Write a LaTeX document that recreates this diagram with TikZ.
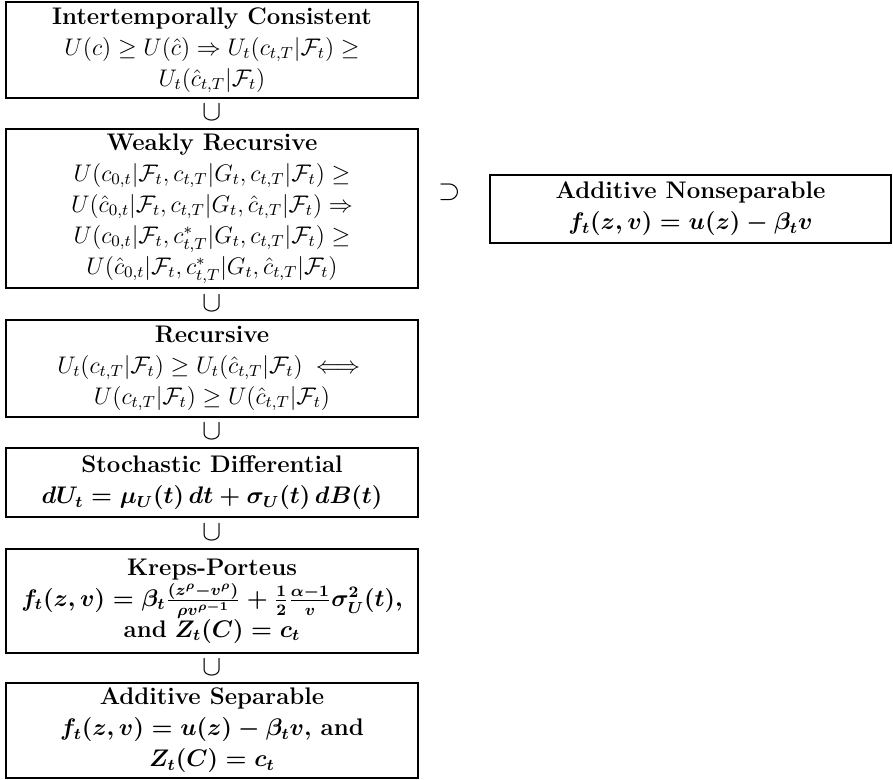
\documentclass[tikz,border=0pt]{standalone}
\usetikzlibrary{calc}
\newcommand{\bmth}[1]{{\boldmath$#1$}}
\begin{document}
\begin{tikzpicture}[x=0.5pt,y=-0.5pt,
  box/.style={draw=black, line width=0.9pt, rectangle, inner sep=0pt, align=center,
    minimum width=206pt, font=\fontsize{12}{15.5}\selectfont},
  rbox/.style={box, minimum width=200.5pt},
  rel/.style={inner sep=0pt, font=\fontsize{14}{16}\selectfont}]
\useasboundingbox (0,0) rectangle (893,780);
\node[box, minimum height=48pt] (b1) at (212,50)
  {\textbf{Intertemporally Consistent}\\
   $U(c) \geq U(\hat c) \Rightarrow U_t(c_{t,T}|\mathcal{F}_t) \geq$\\
   $U_t(\hat c_{t,T}|\mathcal{F}_t)$};
\node[box, minimum height=79.5pt] (b2) at (212,208.5)
  {\textbf{Weakly Recursive}\\
   $U(c_{0,t}|\mathcal{F}_t, c_{t,T}|G_t, c_{t,T}|\mathcal{F}_t) \geq$\\
   $U(\hat c_{0,t}|\mathcal{F}_t, c_{t,T}|G_t, \hat c_{t,T}|\mathcal{F}_t) \Rightarrow$\\
   $U(c_{0,t}|\mathcal{F}_t, c^*_{t,T}|G_t, c_{t,T}|\mathcal{F}_t) \geq$\\
   $U(\hat c_{0,t}|\mathcal{F}_t, c^*_{t,T}|G_t, \hat c_{t,T}|\mathcal{F}_t)$};
\node[box, minimum height=48.5pt] (b3) at (212,368.5)
  {\textbf{Recursive}\\
   $U_t(c_{t,T}|\mathcal{F}_t) \geq U_t(\hat c_{t,T}|\mathcal{F}_t) \iff$\\
   $U(c_{t,T}|\mathcal{F}_t) \geq U(\hat c_{t,T}|\mathcal{F}_t)$};
\node[box, minimum height=34.5pt] (b4) at (212,482.5)
  {\textbf{Stochastic Differential}\\
   \bmth{dU_t = \mu_U(t)\,dt + \sigma_U(t)\,dB(t)}};
\node[box, minimum height=52pt] (b5) at (212,601)
  {\textbf{Kreps-Porteus}\\
   \bmth{f_t(z,v) = \beta_t \frac{(z^\rho - v^\rho)}{\rho v^{\rho-1}} + \frac{1}{2}\frac{\alpha-1}{v}\sigma_U^2(t),}\\
   \textbf{and} \bmth{Z_t(C) = c_t}};
\node[box, minimum height=47.5pt] (b6) at (212,730.5)
  {\textbf{Additive Separable}\\
   \bmth{f_t(z,v) = u(z) - \beta_t v}\textbf{, and}\\
   \bmth{Z_t(C) = c_t}};
\node[rbox, minimum height=34pt] (r) at (690.5,209)
  {\textbf{Additive Nonseparable}\\
   \bmth{f_t(z,v) = u(z) - \beta_t v}};
\node[rel] (u1) at ($(b1.south)!0.48!(b2.north)$) {$\cup$};
\node[rel] (u2) at ($(b2.south)!0.48!(b3.north)$) {$\cup$};
\node[rel] (u3) at ($(b3.south)!0.48!(b4.north)$) {$\cup$};
\node[rel] (u4) at ($(b4.south)!0.48!(b5.north)$) {$\cup$};
\node[rel] (u5) at ($(b5.south)!0.48!(b6.north)$) {$\cup$};
\node[rel] (s1) at (450,192) {$\supset$};
\end{tikzpicture}
\end{document}
